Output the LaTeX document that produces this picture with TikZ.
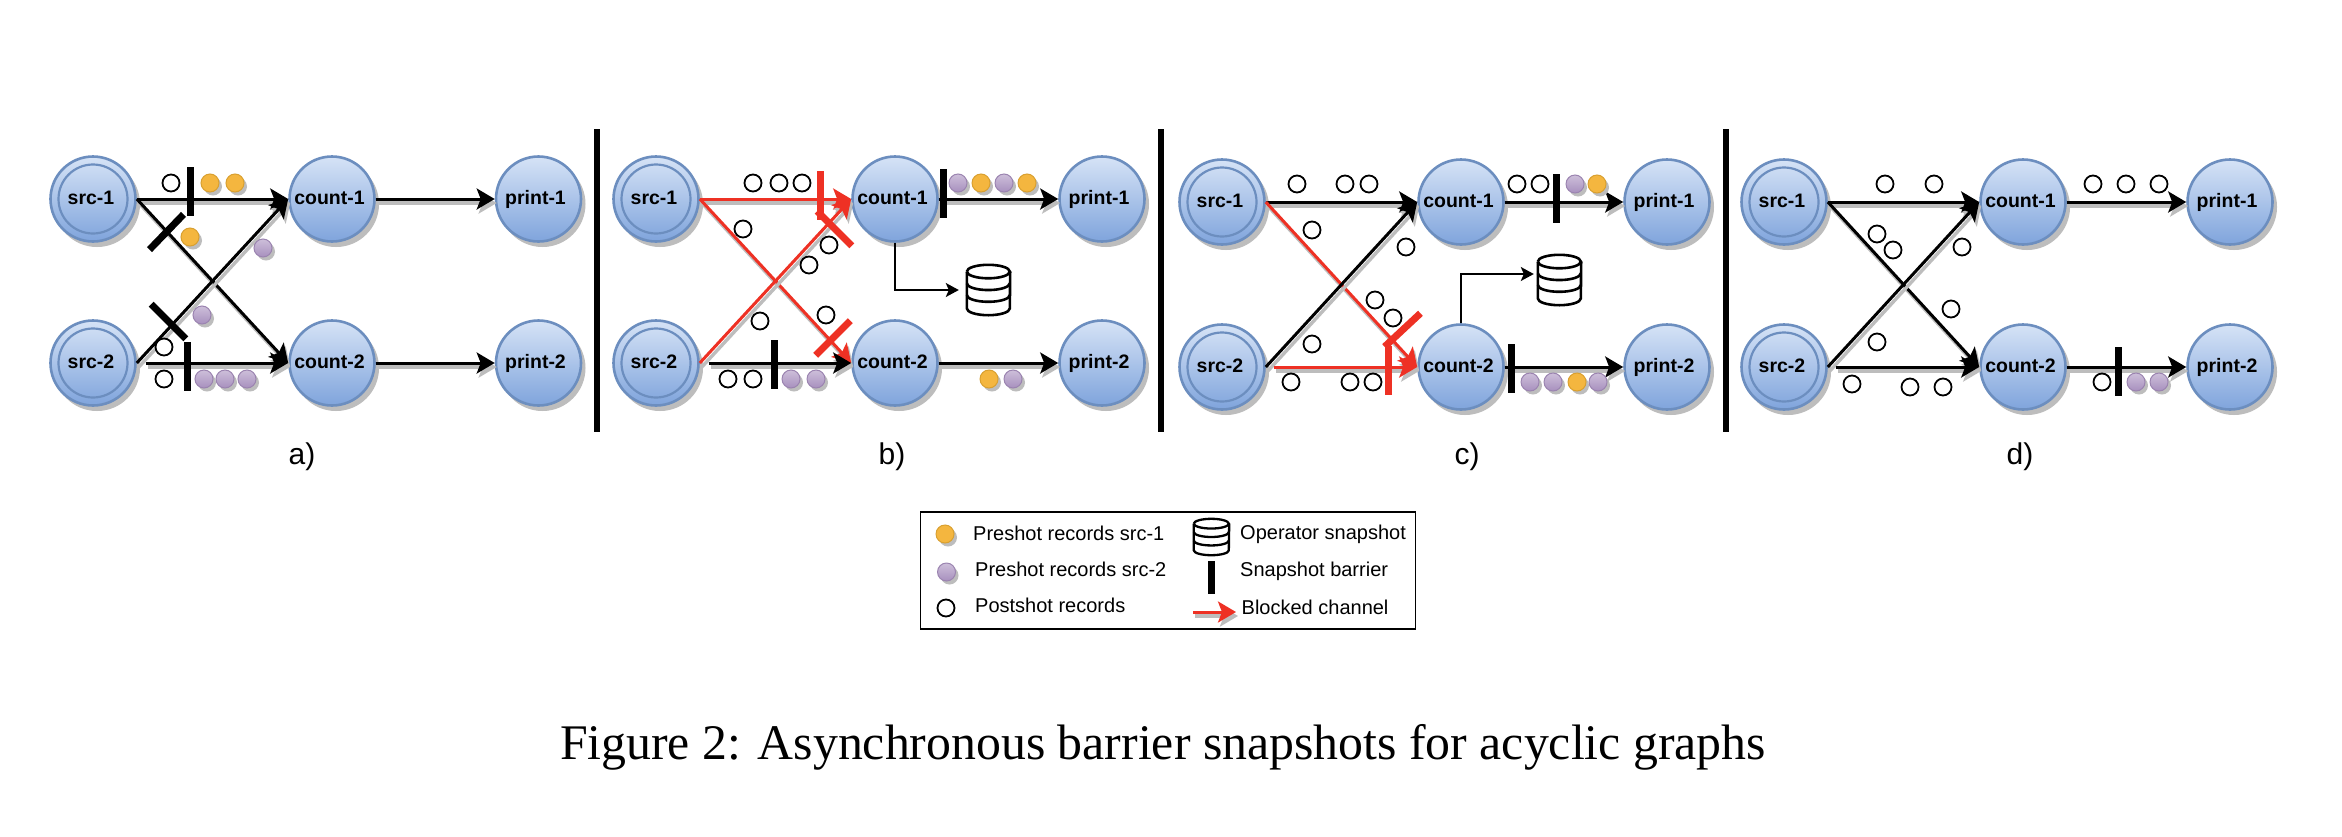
\documentclass[tikz,border=0pt]{standalone}
\usepackage{fontspec}
\setmainfont{Liberation Sans}
\newfontfamily\capfont{Liberation Serif}
\usetikzlibrary{arrows.meta,shadows}
\definecolor{nodetop}{HTML}{D6E3F6}
\definecolor{nodebot}{HTML}{7FA4DC}
\definecolor{nodeline}{HTML}{6C8EBF}
\definecolor{blockred}{HTML}{EE3124}
\definecolor{orangefill}{HTML}{F4B63F}
\definecolor{orangeline}{HTML}{D9A030}
\definecolor{purpletop}{HTML}{CDBFDA}
\definecolor{purplebot}{HTML}{A890BE}
\definecolor{purpleline}{HTML}{9B84B0}
\definecolor{softshadow}{HTML}{BDBDBD}
\tikzset{
  op/.style={circle,minimum size=85pt,inner sep=0pt,draw=nodeline,line width=2.6pt,
    top color=nodetop,bottom color=nodebot,font=\fontsize{19.5}{19.5}\selectfont\bfseries,
    general shadow={shadow xshift=4pt,shadow yshift=-5pt,fill=softshadow,draw=softshadow,line width=1pt}},
  srcop/.style={op,path picture={\draw[nodeline,line width=2.2pt] (path picture bounding box.center) circle (34.5pt);}},
  flowtip/.style={-{Stealth[length=18pt,width=21pt,inset=4pt]}},
  flowblack/.style={flowtip,draw=black,line width=3pt},
  flowred/.style={flowtip,draw=blockred,line width=3pt},
  flowshadow/.style={flowtip,draw=softshadow,line width=3.4pt,transform canvas={xshift=2pt,yshift=-4pt}},
  snap/.style={draw=black,line width=1.5pt,-{Stealth[length=13pt,width=14pt,inset=3pt]}},
  barrier/.style={rectangle,fill=black,minimum width=7pt,minimum height=49pt,inner sep=0pt},
  redbarrier/.style={barrier,fill=blockred},
  divider/.style={rectangle,fill=black,minimum width=6pt,minimum height=303pt,inner sep=0pt},
  postrec/.style={circle,minimum size=17pt,inner sep=0pt,draw=black,line width=1.8pt,fill=white},
  orangerec/.style={circle,minimum size=18pt,inner sep=0pt,draw=orangeline,line width=1pt,fill=orangefill,
    general shadow={shadow xshift=3pt,shadow yshift=-3.5pt,fill=softshadow}},
  purplerec/.style={circle,minimum size=18pt,inner sep=0pt,draw=purpleline,line width=1pt,top color=purpletop,bottom color=purplebot,
    general shadow={shadow xshift=3pt,shadow yshift=-3.5pt,fill=softshadow}},
  panellabel/.style={font=\fontsize{30}{30}\selectfont,inner sep=0pt},
  legendtext/.style={font=\fontsize{20}{20}\selectfont,anchor=west,inner sep=0pt},
  dbbox/.style={rectangle,inner sep=0pt},
}
% panel: prefix, x src, x count, x print, y top, y bottom
\newcommand{\opnodes}[6]{%
  \node[srcop] (#1s1) at (#2,#5) {\raisebox{2pt}{src-1\kern4pt}};
  \node[srcop] (#1s2) at (#2,#6) {\raisebox{2pt}{src-2\kern4pt}};
  \node[op] (#1c1) at (#3,#5) {\raisebox{2pt}{count-1\kern5pt}};
  \node[op] (#1c2) at (#3,#6) {\raisebox{2pt}{count-2\kern5pt}};
  \node[op] (#1p1) at (#4,#5) {\raisebox{2pt}{print-1\kern6pt}};
  \node[op] (#1p2) at (#4,#6) {\raisebox{2pt}{print-2\kern6pt}};
}
\newcommand{\flowedge}[4][]{%
  \draw[flowshadow,#1] (#2) -- (#3);
  \draw[#4,#1] (#2) -- (#3);
}
% data store icon: name, cx, cy, w, h, line width
\newcommand{\dbicon}[6]{%
  \node[dbbox,minimum width=#4pt,minimum height=#5pt] (#1) at (#2,#3) {};
  \begin{scope}[line width=#6pt,draw=black]
    \pgfmathsetmacro{\rx}{#4/2}\pgfmathsetmacro{\ry}{#5*0.135}\pgfmathsetmacro{\st}{#5*0.235}
    \draw (#1.north west) ++(0,-\ry pt) arc[start angle=180,end angle=540,x radius=\rx pt,y radius=\ry pt];
    \draw (#1.north west) ++(0,-\ry pt) -- ([yshift=\ry pt]#1.south west)
      arc[start angle=180,end angle=360,x radius=\rx pt,y radius=\ry pt] -- ([yshift=-\ry pt]#1.north east);
    \draw ([yshift=-\ry pt-\st pt]#1.north west) arc[start angle=180,end angle=360,x radius=\rx pt,y radius=\ry pt];
    \draw ([yshift=-\ry pt-2*\st pt]#1.north west) arc[start angle=180,end angle=360,x radius=\rx pt,y radius=\ry pt];
  \end{scope}
}
\begin{document}
\begin{tikzpicture}[x=1pt,y=-1pt]
\useasboundingbox (0,0) rectangle (2342,836);
\fill[white] (0,0) rectangle (2342,836);

% dividers
\node[divider] (div1) at (597,280.5) {};
\node[divider] (div2) at (1161,280.5) {};
\node[divider] (div3) at (1725.5,280.5) {};

% ---------- panel a
\opnodes{a}{93}{332}{538.5}{199}{363}
\flowedge{as1.east}{ac1.west}{flowblack}
\flowedge{as1.east}{ac2.west}{flowblack}
\flowedge{as2.east}{ac1.west}{flowblack}
\flowedge[shorten <=9pt]{as2.east}{ac2.west}{flowblack}
\flowedge{ac1.east}{ap1.west}{flowblack}
\flowedge{ac2.east}{ap2.west}{flowblack}
\node[barrier] (ab1) at (190,191.5) {};
\node[barrier] (ab2) at (187,366.5) {};
\node[barrier,rotate=-44] (ab3) at (166.5,232) {};
\node[barrier,rotate=45] (ab4) at (168.5,321.5) {};

% ---------- panel b
\opnodes{b}{656}{895}{1102}{199}{363}
\flowedge{bs1.east}{bc1.west}{flowred}
\flowedge{bs1.east}{bc2.west}{flowred}
\flowedge{bs2.east}{bc1.west}{flowred}
\flowedge[shorten <=9pt]{bs2.east}{bc2.west}{flowblack}
\flowedge{bc1.east}{bp1.west}{flowblack}
\flowedge{bc2.east}{bp2.west}{flowblack}
\node[redbarrier] (bb1) at (820,195) {};
\node[redbarrier,rotate=45] (bb2) at (834.5,228.5) {};
\node[redbarrier,rotate=-45] (bb3) at (833,338) {};
\node[barrier] (bb4) at (774,364.5) {};
\node[barrier] (bb5) at (943.6,193.5) {};
\dbicon{bdb}{988.5}{290}{43}{50}{2.6}
\draw[snap,shorten >=8pt] (bc1.south) |- (bdb.west);

% ---------- panel c
\opnodes{c}{1222}{1461}{1667}{202}{367}
\flowedge{cs1.east}{cc1.west}{flowblack}
\flowedge{cs1.east}{cc2.west}{flowred}
\flowedge{cs2.east}{cc1.west}{flowblack}
\flowedge[shorten <=8pt]{cs2.east}{cc2.west}{flowred}
\flowedge{cc1.east}{cp1.west}{flowblack}
\flowedge{cc2.east}{cp2.west}{flowblack}
\node[barrier] (cb1) at (1556,198.5) {};
\node[barrier] (cb2) at (1511,368.5) {};
\node[redbarrier] (cb3) at (1388,370) {};
\node[redbarrier,rotate=-47] (cb4) at (1402.5,330) {};
\dbicon{cdb}{1559.5}{280}{43}{50}{2.6}
\draw[snap,shorten >=4pt] (cc2.north) |- ([yshift=6pt]cdb.west);

% ---------- panel d
\opnodes{d}{1784}{2023}{2230}{202}{367}
\flowedge{ds1.east}{dc1.west}{flowblack}
\flowedge{ds1.east}{dc2.west}{flowblack}
\flowedge{ds2.east}{dc1.west}{flowblack}
\flowedge[shorten <=8pt]{ds2.east}{dc2.west}{flowblack}
\flowedge{dc1.east}{dp1.west}{flowblack}
\flowedge{dc2.east}{dp2.west}{flowblack}
\node[barrier] (db1) at (2118,371.5) {};

% ---------- records
\foreach \x/\y in {171/183,164/347,164/379,
  753/183,779/183,802/183,743/229,829/245,809/265,760/321,826/315,728/379,753/379,
  1297/184,1345/184,1369/184,1312/230,1406/247,1375/300,1393/318,1312/344,1291/382,1350/382,1373/382,1517/184,1540/184,
  1885/184,1934/184,2093/184,2126/184,2159/184,1877/234,1893/250,1962/247,1951/309,1877/342,1852/384,1910/387,1943/387,2102/382}
  \node[postrec] (w\x-\y) at (\x,\y) {};
\foreach \x/\y in {210/183,235/183,190/237,
  981/183,1027/183,989/379,
  1597/184,1577/382}
  \node[orangerec] (o\x-\y) at (\x,\y) {};
\foreach \x/\y in {263/248,202/315,204/379,225/379,247/379,
  791/379,816/379,958/183,1004/183,1013/379,
  1575/184,1530/382,1553/382,1598/382,
  2136/382,2159/382}
  \node[purplerec] (p\x-\y) at (\x,\y) {};

% ---------- panel labels
\node[panellabel] (la) at (302,457) {a)};
\node[panellabel] (lb) at (892,457) {b)};
\node[panellabel] (lc) at (1467,457) {c)};
\node[panellabel] (ld) at (2020,457) {d)};

% ---------- legend
\node[rectangle,draw=black,line width=1.6pt,minimum width=495pt,minimum height=117pt,inner sep=0pt] (legend) at (1168,570.5) {};
\node[orangerec] (lego) at (945,534) {};
\node[purplerec] (legp) at (946.5,572) {};
\node[postrec] (legw) at (946,608) {};
\node[legendtext] (t1) at (973,533) {Preshot records src-1};
\node[legendtext] (t2) at (975,569) {Preshot records src-2};
\node[legendtext] (t3) at (975,605) {Postshot records};
\dbicon{legdb}{1211.5}{537}{35}{36}{2.3}
\node[barrier,minimum height=33pt] (legb) at (1211,577.5) {};
\coordinate (arra) at (1193,612);
\coordinate (arrb) at (1236,612);
\flowedge{arra}{arrb}{flowred}
\node[legendtext] (t4) at (1240,534) {Operator snapshot};
\node[legendtext] (t5) at (1240,571) {Snapshot barrier};
\node[legendtext] (t6) at (1241.5,607) {Blocked channel};

% ---------- caption
\node[font=\capfont\fontsize{49.8}{50}\selectfont,inner sep=0pt] (cap) at (1163,747) {Figure 2: Asynchronous barrier snapshots for acyclic graphs};
\end{tikzpicture}
\end{document}
